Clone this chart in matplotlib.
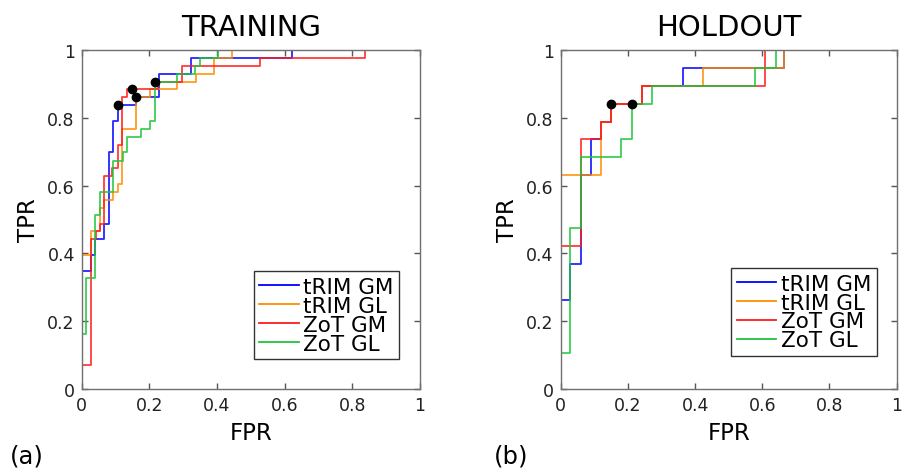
import matplotlib
matplotlib.use("Agg")
import matplotlib.pyplot as plt

plt.rcParams['font.family'] = ['DejaVu Sans']

series_names = ["tRIM GM", "tRIM GL", "ZoT GM", "ZoT GL"]
series_colors = ["#0000ff", "#ff8c00", "#ff1a1a", "#1fc43a"]

# TRAINING ROC curves (corner points, steps-post)
train_trim_gm_fpr = [0, 0, 0.027, 0.039, 0.066, 0.081, 0.093, 0.106, 0.161, 0.229, 0.322, 0.621, 1]
train_trim_gm_tpr = [0, 0.349, 0.395, 0.442, 0.488, 0.698, 0.791, 0.837, 0.860, 0.930, 0.977, 1.0, 1.0]
train_trim_gl_fpr = [0, 0, 0.027, 0.054, 0.067, 0.093, 0.108, 0.120, 0.161, 0.202, 0.283, 0.337, 0.390, 0.445, 1]
train_trim_gl_tpr = [0, 0.395, 0.465, 0.535, 0.558, 0.581, 0.605, 0.767, 0.860, 0.884, 0.907, 0.930, 0.977, 1.0, 1.0]
train_zot_gm_fpr = [0, 0, 0.027, 0.042, 0.054, 0.065, 0.089, 0.108, 0.120, 0.135, 0.225, 0.296, 0.527, 0.838, 1]
train_zot_gm_tpr = [0, 0.070, 0.442, 0.465, 0.488, 0.628, 0.651, 0.721, 0.860, 0.884, 0.907, 0.953, 0.977, 1.0, 1.0]
train_zot_gl_fpr = [0, 0, 0.013, 0.039, 0.054, 0.093, 0.123, 0.135, 0.175, 0.202, 0.216, 0.281, 0.335, 0.350, 0.404, 1]
train_zot_gl_tpr = [0, 0.163, 0.326, 0.512, 0.581, 0.674, 0.698, 0.744, 0.767, 0.791, 0.907, 0.930, 0.953, 0.977, 1.0, 1.0]
train_op_fpr = [0.106, 0.148, 0.161, 0.216]
train_op_tpr = [0.837, 0.884, 0.860, 0.907]

# HOLDOUT ROC curves
hold_trim_gm_fpr = [0, 0, 0.028, 0.060, 0.089, 0.119, 0.150, 0.243, 0.365, 0.665, 1]
hold_trim_gm_tpr = [0, 0.263, 0.368, 0.632, 0.737, 0.789, 0.842, 0.895, 0.947, 1.0, 1.0]
hold_trim_gl_fpr = [0, 0, 0.119, 0.150, 0.243, 0.424, 0.665, 1]
hold_trim_gl_tpr = [0, 0.632, 0.789, 0.842, 0.895, 0.947, 1.0, 1.0]
hold_zot_gm_fpr = [0, 0, 0.060, 0.119, 0.150, 0.243, 0.608, 1]
hold_zot_gm_tpr = [0, 0.421, 0.737, 0.789, 0.842, 0.895, 1.0, 1.0]
hold_zot_gl_fpr = [0, 0, 0.028, 0.060, 0.180, 0.211, 0.273, 0.578, 0.640, 1]
hold_zot_gl_tpr = [0, 0.105, 0.474, 0.684, 0.737, 0.842, 0.895, 0.947, 1.0, 1.0]
hold_op_fpr = [0.150, 0.211]
hold_op_tpr = [0.842, 0.842]

ticks = [0, 0.2, 0.4, 0.6, 0.8, 1]
tick_labels = ["0", "0.2", "0.4", "0.6", "0.8", "1"]

fig = plt.figure(figsize=(9.04, 4.77), dpi=100)
ax1 = fig.add_axes([0.0904, 0.1824, 0.3742, 0.7107])
ax2 = fig.add_axes([0.6202, 0.1824, 0.3717, 0.7107])

panels = [
    (ax1, "TRAINING",
     [(train_trim_gm_fpr, train_trim_gm_tpr), (train_trim_gl_fpr, train_trim_gl_tpr),
      (train_zot_gm_fpr, train_zot_gm_tpr), (train_zot_gl_fpr, train_zot_gl_tpr)],
     train_op_fpr, train_op_tpr, 0.938, 0.0885),
    (ax2, "HOLDOUT",
     [(hold_trim_gm_fpr, hold_trim_gm_tpr), (hold_trim_gl_fpr, hold_trim_gl_tpr),
      (hold_zot_gm_fpr, hold_zot_gm_tpr), (hold_zot_gl_fpr, hold_zot_gl_tpr)],
     hold_op_fpr, hold_op_tpr, 0.940, 0.098),
]

for ax, title, curves, opx, opy, lx, ly in panels:
    for (fx, ty), name, col in zip(curves, series_names, series_colors):
        ax.plot(fx, ty, drawstyle="steps-post", color=col, lw=1.3, alpha=0.85, label=name)
    ax.plot(opx, opy, "o", color="black", ms=6, zorder=5)
    ax.set_xlim(0, 1)
    ax.set_ylim(0, 1)
    ax.set_xticks(ticks)
    ax.set_xticklabels(tick_labels)
    ax.set_yticks(ticks)
    ax.set_yticklabels(tick_labels)
    ax.tick_params(direction="in", top=True, right=True, length=4, width=1,
                   color="#555555", labelsize=12.5, labelcolor="#222222", pad=5)
    for sp in ax.spines.values():
        sp.set_color("#707070")
        sp.set_linewidth(1.0)
    ax.set_title(title, fontsize=21, pad=11)
    ax.set_xlabel("FPR", fontsize=16.5, labelpad=5)
    ax.set_ylabel("TPR", fontsize=16.5, labelpad=5)
    leg = ax.legend(loc="lower right", bbox_to_anchor=(lx, ly), fontsize=15.5,
                    frameon=True, fancybox=False, framealpha=1, edgecolor="#333333",
                    handlelength=1.85, handletextpad=0.2, labelspacing=-0.05,
                    borderpad=0.25, borderaxespad=0)
    leg.get_frame().set_linewidth(1.0)
    for line in leg.get_lines():
        line.set_alpha(1)
        line.set_linewidth(1.3)

fig.text(0.011, 0.028, "(a)", fontsize=17.5)
fig.text(0.546, 0.028, "(b)", fontsize=17.5)

fig.savefig("out.png", dpi=100)
